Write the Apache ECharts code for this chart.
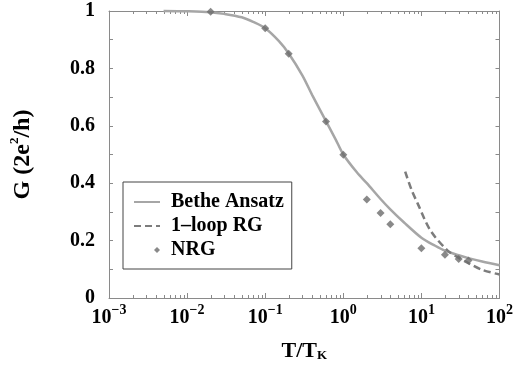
<!DOCTYPE html>
<html>
<head>
<meta charset="utf-8">
<script src="https://cdn.jsdelivr.net/npm/echarts@6/dist/echarts.min.js"></script>
<style>
  html, body { margin: 0; padding: 0; background: #fff; }
  #chart { width: 516px; height: 373px; }
</style>
</head>
<body>
<div id="chart"></div>
<script>
// Linear conductance G (in units of 2e^2/h) versus reduced temperature T/T_K

// Bethe Ansatz curve
const betheT = [0.005, 0.01, 0.02, 0.03, 0.05, 0.07, 0.1, 0.15, 0.2, 0.3, 0.4, 0.6, 0.8, 1, 1.5, 2, 3, 4, 6, 10, 15, 20, 30, 40, 60, 100];
const betheG = [1.0, 0.999, 0.996, 0.99, 0.978, 0.962, 0.94, 0.895, 0.852, 0.775, 0.707, 0.616, 0.552, 0.5, 0.437, 0.4, 0.345, 0.309, 0.263, 0.21, 0.182, 0.165, 0.149, 0.139, 0.127, 0.114];

// Perturbative 1-loop RG (high temperature)
const rgT = [6.2, 7.5, 9, 13, 21.5, 30, 41, 60, 100];
const rgG = [0.44, 0.376, 0.328, 0.236, 0.166, 0.14, 0.12, 0.098, 0.082];

// NRG data points
const nrgT = [0.02, 0.1, 0.2, 0.6, 1, 2, 3, 4, 10, 20, 30, 40];
const nrgG = [0.997, 0.94, 0.851, 0.615, 0.499, 0.343, 0.296, 0.257, 0.173, 0.151, 0.136, 0.131];

// Axis tick labels
const xExponents = [-3, -2, -1, 0, 1, 2];
const yTickLabels = ['0', '0.2', '0.4', '0.6', '0.8', '1'];

const SERIF = '"Liberation Serif", "Times New Roman", serif';
const GREY = '#8a8a8a';

// Minor log ticks (2..9 in every decade)
const minorTicks = [];
for (let e = xExponents[0]; e < xExponents[xExponents.length - 1]; e++) {
  for (let m = 2; m <= 9; m++) minorTicks.push([m * Math.pow(10, e), 0.5]);
}

function pairs(xs, ys) { return xs.map((x, i) => [x, ys[i]]); }

function expLabel(v) {
  const e = Math.round(Math.log10(v));
  const s = e < 0 ? '\u2212' + (-e) : String(e);
  return '{b|10}{s|' + s + '}';
}

const chart = echarts.init(document.getElementById('chart'), null, { renderer: 'canvas' });

// legend entries for the curves show only their line sample
const hiddenSymbol = { opacity: 0, color: 'rgba(0,0,0,0)', borderWidth: 0 };

chart.setOption({
  animation: false,
  backgroundColor: '#fff',
  grid: { left: 104, right: 12, top: 11, bottom: 75 },
  legend: {
    orient: 'vertical',
    left: 123,
    top: 182,
    data: [
      { name: 'Bethe Ansatz', itemStyle: hiddenSymbol },
      { name: '1\u2013loop RG', itemStyle: hiddenSymbol },
      { name: 'NRG', icon: 'path://M0,0M26,14M20,7L23,4L26,7L23,10Z' }
    ],
    itemWidth: 26,
    itemHeight: 14,
    itemGap: 4,
    padding: [10, 8, 9, 10],
    backgroundColor: '#fff',
    borderColor: '#444',
    borderWidth: 1,
    borderRadius: 0,
    textStyle: {
      fontFamily: SERIF, fontWeight: 'bold', fontSize: 20, color: '#000',
      lineHeight: 20, padding: [0, 0, 0, 6]
    }
  },
  xAxis: [
    {
      type: 'log', logBase: 10, min: 0.001, max: 100, position: 'bottom',
      axisLine: { show: true, onZero: false, lineStyle: { color: GREY, width: 1 } },
      axisTick: { show: true, inside: true, length: 5, lineStyle: { color: GREY, width: 1 } },
      splitLine: { show: false },
      axisLabel: {
        margin: 5,
        formatter: expLabel,
        rich: {
          b: { fontFamily: SERIF, fontWeight: 'bold', fontSize: 20, lineHeight: 30, color: '#000' },
          s: { fontFamily: SERIF, fontWeight: 'bold', fontSize: 14, lineHeight: 14, verticalAlign: 'top', color: '#000' }
        }
      },
      name: '{t|T/T}{k|K}',
      nameLocation: 'middle',
      nameGap: 42,
      nameTextStyle: {
        rich: {
          t: { fontFamily: SERIF, fontWeight: 'bold', fontSize: 22, lineHeight: 22, verticalAlign: 'top', color: '#000' },
          k: { fontFamily: SERIF, fontWeight: 'bold', fontSize: 13, lineHeight: 13, verticalAlign: 'bottom', padding: [13, 0, 0, 0], color: '#000' }
        }
      }
    },
    {
      type: 'log', logBase: 10, min: 0.001, max: 100, position: 'top',
      axisLine: { show: true, onZero: false, lineStyle: { color: GREY, width: 1 } },
      axisTick: { show: true, inside: true, length: 5, lineStyle: { color: GREY, width: 1 } },
      splitLine: { show: false },
      axisLabel: { show: false }
    }
  ],
  yAxis: [
    {
      type: 'value', min: 0, max: 1, interval: 0.2, position: 'left',
      axisLine: { show: true, onZero: false, lineStyle: { color: GREY, width: 1 } },
      axisTick: { show: true, inside: true, length: 4, lineStyle: { color: GREY, width: 1 } },
      minorTick: { show: true, splitNumber: 2, length: 4, lineStyle: { color: GREY, width: 1 } },
      splitLine: { show: false },
      minorSplitLine: { show: false },
      axisLabel: {
        margin: 14,
        fontFamily: SERIF, fontWeight: 'bold', fontSize: 20, color: '#000',
        formatter: v => yTickLabels[Math.round(v * 5)]
      },
      name: '{t|G (2e}{s|2}{t|/h)}',
      nameLocation: 'middle',
      nameRotate: 90,
      nameGap: 71,
      nameTextStyle: {
        rich: {
          t: { fontFamily: SERIF, fontWeight: 'bold', fontSize: 24, lineHeight: 30, color: '#000' },
          s: { fontFamily: SERIF, fontWeight: 'bold', fontSize: 13, lineHeight: 13, verticalAlign: 'top', color: '#000' }
        }
      }
    },
    {
      type: 'value', min: 0, max: 1, interval: 0.2, position: 'right',
      axisLine: { show: true, onZero: false, lineStyle: { color: GREY, width: 1 } },
      axisTick: { show: true, inside: true, length: 4, lineStyle: { color: GREY, width: 1 } },
      minorTick: { show: true, splitNumber: 2, length: 4, lineStyle: { color: GREY, width: 1 } },
      splitLine: { show: false },
      minorSplitLine: { show: false },
      axisLabel: { show: false }
    }
  ],
  series: [
    {
      name: 'log minor ticks',
      type: 'custom',
      silent: true,
      z: 1,
      xAxisIndex: 0, yAxisIndex: 0,
      data: minorTicks,
      renderItem: function (params, api) {
        const x = Math.round(api.coord([api.value(0), api.value(1)])[0]) + 0.5;
        const cs = params.coordSys;
        const yb = cs.y + cs.height;
        const yt = cs.y;
        const st = { stroke: GREY, lineWidth: 1 };
        return {
          type: 'group',
          children: [
            { type: 'line', shape: { x1: x, y1: yb, x2: x, y2: yb - 3 }, style: st },
            { type: 'line', shape: { x1: x, y1: yt, x2: x, y2: yt + 3 }, style: st }
          ]
        };
      }
    },
    {
      name: 'Bethe Ansatz',
      type: 'line',
      data: pairs(betheT, betheG),
      smooth: 0.3,
      symbol: 'none',
      clip: false,
      z: 2,
      itemStyle: { color: '#a6a6a6' },
      lineStyle: { color: '#a6a6a6', width: 2.5 }
    },
    {
      name: '1\u2013loop RG',
      type: 'line',
      data: pairs(rgT, rgG),
      smooth: 0.3,
      symbol: 'none',
      clip: false,
      z: 3,
      itemStyle: { color: '#7c7c7c' },
      lineStyle: { color: '#7c7c7c', width: 2.5, type: [7, 4] }
    },
    {
      name: 'NRG',
      type: 'scatter',
      data: pairs(nrgT, nrgG),
      symbol: 'diamond',
      symbolSize: 8,
      clip: false,
      z: 4,
      itemStyle: { color: '#6c6c6c' }
    }
  ]
});
</script>
</body>
</html>
